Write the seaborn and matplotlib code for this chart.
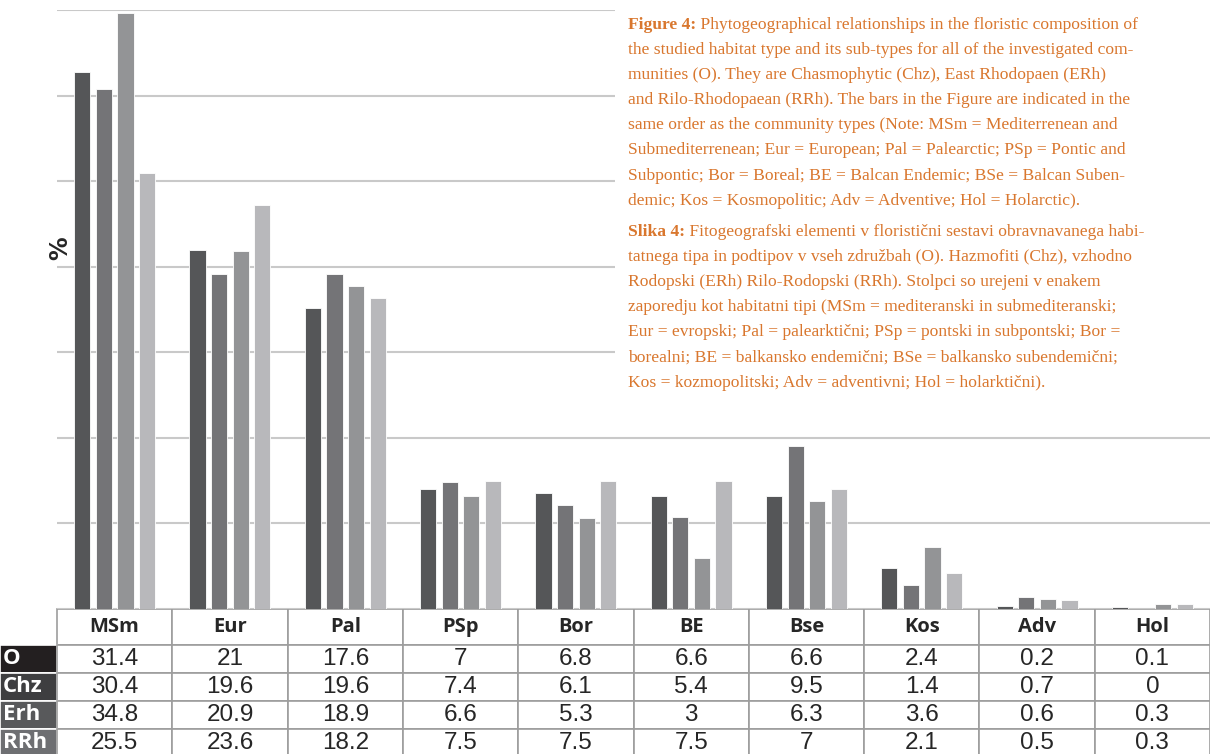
import matplotlib
matplotlib.use('Agg')
import pandas as pd
import seaborn as sns
import matplotlib.pyplot as plt
from matplotlib.patches import Rectangle

# data
elements = ['MSm', 'Eur', 'Pal', 'PSp', 'Bor', 'BE', 'Bse', 'Kos', 'Adv', 'Hol']
communities = ['O', 'Chz', 'Erh', 'RRh']
o_vals = [31.4, 21, 17.6, 7, 6.8, 6.6, 6.6, 2.4, 0.2, 0.1]
chz_vals = [30.4, 19.6, 19.6, 7.4, 6.1, 5.4, 9.5, 1.4, 0.7, 0]
erh_vals = [34.8, 20.9, 18.9, 6.6, 5.3, 3, 6.3, 3.6, 0.6, 0.3]
rrh_vals = [25.5, 23.6, 18.2, 7.5, 7.5, 7.5, 7, 2.1, 0.5, 0.3]

caption_en = [
    'Phytogeographical relationships in the floristic composition of',
    'the studied habitat type and its sub-types for all of the investigated com-',
    'munities (O). They are Chasmophytic (Chz), East Rhodopaen (ERh)',
    'and Rilo-Rhodopaean (RRh). The bars in the Figure are indicated in the',
    'same order as the community types (Note: MSm = Mediterrenean and',
    'Submediterrenean; Eur = European; Pal = Palearctic; PSp = Pontic and',
    'Subpontic; Bor = Boreal; BE = Balcan Endemic; BSe = Balcan Suben-',
    'demic; Kos = Kosmopolitic; Adv = Adventive; Hol = Holarctic).',
]
caption_sl = [
    'Fitogeografski elementi v floristični sestavi obravnavanega habi-',
    'tatnega tipa in podtipov v vseh združbah (O). Hazmofiti (Chz), vzhodno',
    'Rodopski (ERh) Rilo-Rodopski (RRh). Stolpci so urejeni v enakem',
    'zaporedju kot habitatni tipi (MSm = mediteranski in submediteranski;',
    'Eur = evropski; Pal = palearktični; PSp = pontski in subpontski; Bor =',
    'borealni; BE = balkansko endemični; BSe = balkansko subendemični;',
    'Kos = kozmopolitski; Adv = adventivni; Hol = holarktični).',
]

series = {'O': o_vals, 'Chz': chz_vals, 'Erh': erh_vals, 'RRh': rrh_vals}
df = pd.DataFrame([(e, c, series[c][i]) for c in communities
                   for i, e in enumerate(elements)],
                  columns=['element', 'community', 'value'])

bar_colors = ['#555658', '#737477', '#939497', '#b7b8bb']
label_colors = ['#231f20', '#3e3e40', '#58595b', '#6e6f72']
orange = '#d9772e'

sns.set_style('white')
fig = plt.figure(figsize=(12.1, 7.54), dpi=100)
W, H = 1210, 754
ax = fig.add_axes([57 / W, 145 / H, 1153 / W, 599 / H])

sns.barplot(data=df, x='element', y='value', hue='community',
            hue_order=communities, order=elements, palette=bar_colors,
            width=0.75, gap=0.25, edgecolor='white', linewidth=0.6,
            errorbar=None, legend=False, ax=ax)

ax.set_xlim(-0.5, 9.5)
ax.set_ylim(0, 35)
ax.set_yticks(range(0, 36, 5))
ax.yaxis.grid(True, color='#c9c9c9', lw=1.5)
ax.set_axisbelow(True)
ax.tick_params(left=False, bottom=False, labelleft=False, labelbottom=False)
ax.set_xlabel('')
ax.set_ylabel('')
for s in ax.spines.values():
    s.set_visible(False)

# table under the bars
rows = [[''] + elements]
for c in communities:
    rows.append([c] + [f'{v:g}' for v in series[c]])
tbl = ax.table(cellText=rows, cellLoc='center',
               bbox=[-57 / 1153, -148 / 599, 1210 / 1153, 148 / 599])
tbl.auto_set_font_size(False)
for (r, c), cell in tbl.get_celld().items():
    cell.set_width(57 if c == 0 else 115.3)
    cell.set_height(36 if r == 0 else 28)
    cell.set_edgecolor('#9d9d9d')
    cell.set_linewidth(1.2)
    txt = cell.get_text()
    if r == 0 and c == 0:
        cell.visible_edges = ''
    elif r == 0:
        txt.set_fontweight('bold')
        txt.set_fontsize(14.5)
        txt.set_fontfamily(['Open Sans', 'DejaVu Sans'])
    elif c == 0:
        cell.set_facecolor(label_colors[r - 1])
        cell.set_edgecolor('white')
        txt.set_color('white')
        txt.set_fontweight('bold')
        txt.set_fontsize(16)
        txt.set_fontfamily(['Open Sans', 'DejaVu Sans'])
        txt.set_horizontalalignment('left')
        cell._loc = 'left'
        cell.PAD = 0.05
    else:
        txt.set_fontsize(17.5)
        txt.set_fontfamily(['Liberation Sans Narrow', 'Liberation Sans'])

fig.text(60 / W, 1 - 248 / H, '%', rotation=90, fontsize=17,
         fontweight='bold', ha='center', va='center')

# white box behind the caption
fig.patches.append(Rectangle((615 / W, 1 - 400 / H), 595 / W, 400 / H,
                             transform=fig.transFigure, facecolor='white',
                             edgecolor='none', zorder=5))

cap_font = dict(fontsize=12.6, family=['Liberation Serif', 'DejaVu Serif'],
                color=orange, zorder=6)


def caption(lines, head, y0):
    for i, line in enumerate(lines):
        y = 1 - (y0 + i * 25.1) / H
        if i == 0:
            t = fig.text(628 / W, y, head, fontweight='bold', va='baseline',
                         **cap_font)
            fig.add_artist(plt.Annotation(' ' + line, xy=(1, 0),
                                          xycoords=t, va='bottom',
                                          **cap_font))
        else:
            fig.text(628 / W, y, line, va='baseline', **cap_font)


caption(caption_en, 'Figure 4:', 29)
caption(caption_sl, 'Slika 4:', 236)

fig.savefig('out.png', dpi=100)
